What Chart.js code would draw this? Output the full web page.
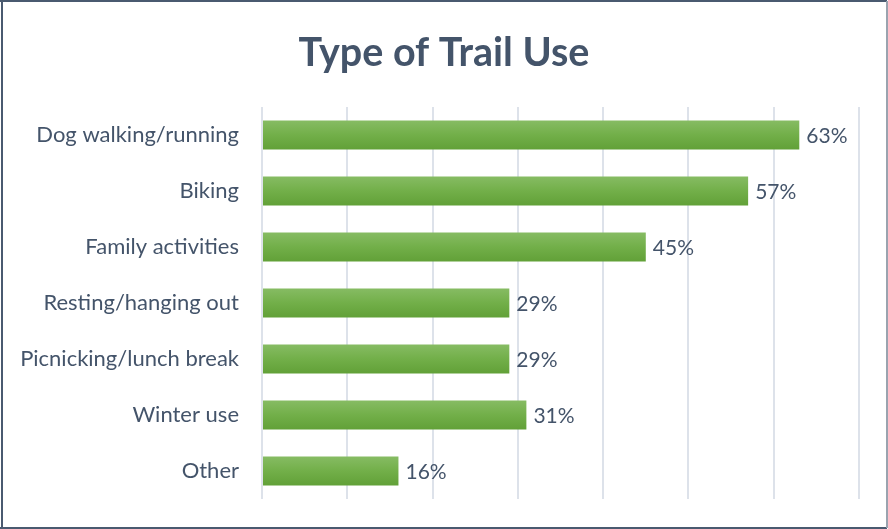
<!DOCTYPE html>
<html>
<head>
<meta charset="utf-8">
<script src="https://cdn.jsdelivr.net/npm/chart.js@4.4.1/dist/chart.umd.min.js"></script>
<style>
  html, body { margin: 0; padding: 0; background: #ffffff; }
  #wrap { position: relative; width: 888px; height: 529px; }
  canvas { display: block; }
</style>
</head>
<body>
<div id="wrap"><canvas id="chart" width="888" height="529"></canvas></div>
<script>
// Survey: type of trail use (share of respondents, %)
const categories = [
  'Dog walking/running',
  'Biking',
  'Family activities',
  'Resting/hanging out',
  'Picnicking/lunch break',
  'Winter use',
  'Other'
];
const shares = [63, 57, 45, 29, 29, 31, 16];
const axisTicks = [0, 10, 20, 30, 40, 50, 60, 70];

const TEXT = '#44546A';
const FONT = 'Lato, "Open Sans", sans-serif';

// Vertical light-to-dark fill for each bar
function barFill(ctx) {
  const chart = ctx.chart;
  const yScale = chart.scales.y;
  if (!chart.chartArea || !yScale || ctx.dataIndex === undefined) return '#70AD47';
  const cy = yScale.getPixelForValue(ctx.dataIndex);
  const half = 15;
  const g = chart.ctx.createLinearGradient(0, cy - half, 0, cy + half);
  g.addColorStop(0, '#87BC64');
  g.addColorStop(0.5, '#72AF49');
  g.addColorStop(1, '#61A037');
  return g;
}

// White background and outer frame
const framePlugin = {
  id: 'frame',
  beforeDraw(chart) {
    const c = chart.ctx;
    c.save();
    c.fillStyle = '#ffffff';
    c.fillRect(0, 0, chart.width, chart.height);
    c.restore();
  },
  afterDraw(chart) {
    const c = chart.ctx;
    c.save();
    c.lineWidth = 2;
    c.strokeStyle = '#4A5A70';
    c.beginPath();
    c.moveTo(0, 1); c.lineTo(887, 1);
    c.moveTo(2, 0); c.lineTo(2, 529);
    c.moveTo(0, 528); c.lineTo(887, 528);
    c.stroke();
    c.strokeStyle = '#9AA3AF';
    c.beginPath();
    c.moveTo(887, 1); c.lineTo(887, 528);
    c.stroke();
    c.restore();
  }
};

// Percentage label at the end of each bar
const valueLabels = {
  id: 'valueLabels',
  afterDatasetsDraw(chart) {
    const c = chart.ctx;
    const meta = chart.getDatasetMeta(0);
    const data = chart.data.datasets[0].data;
    c.save();
    c.font = '21px ' + FONT;
    c.fillStyle = TEXT;
    c.textAlign = 'left';
    c.textBaseline = 'middle';
    meta.data.forEach((bar, i) => {
      c.fillText(data[i] + '%', bar.x + 7, bar.y + 1);
    });
    c.restore();
  }
};

new Chart(document.getElementById('chart'), {
  type: 'bar',
  data: {
    labels: categories,
    datasets: [{
      data: shares,
      backgroundColor: barFill,
      borderWidth: 0,
      categoryPercentage: 1,
      barPercentage: 0.52
    }]
  },
  options: {
    indexAxis: 'y',
    responsive: false,
    animation: false,
    devicePixelRatio: 1,
    layout: { padding: { left: 0, right: 0, top: 0, bottom: 30 } },
    plugins: {
      legend: { display: false },
      tooltip: { enabled: false },
      title: {
        display: true,
        text: 'Type of Trail Use',
        color: TEXT,
        font: { family: FONT, size: 39.5, weight: 'bold', lineHeight: 1.2 },
        padding: { top: 30, bottom: 29.6 }
      }
    },
    scales: {
      x: {
        min: axisTicks[0],
        max: axisTicks[axisTicks.length - 1],
        afterBuildTicks(axis) { axis.ticks = axisTicks.map(v => ({ value: v })); },
        ticks: { display: false },
        grid: { color: '#DDE2EA', lineWidth: 2, drawTicks: false },
        border: { display: false }
      },
      y: {
        afterFit(axis) {
          axis.width = 262;
          axis.paddingTop = 0;
          axis.paddingBottom = 0;
        },
        ticks: {
          color: TEXT,
          font: { family: FONT, size: 22 },
          padding: 23
        },
        grid: { display: false, drawTicks: false },
        border: { display: false }
      },
      // empty right-hand margin beside the plot
      yRight: {
        type: 'category',
        position: 'right',
        labels: categories,
        afterFit(axis) {
          axis.width = 29;
          axis.paddingTop = 0;
          axis.paddingBottom = 0;
        },
        ticks: { display: false },
        grid: { display: false, drawTicks: false },
        border: { display: false }
      }
    }
  },
  plugins: [framePlugin, valueLabels]
});
</script>
</body>
</html>
